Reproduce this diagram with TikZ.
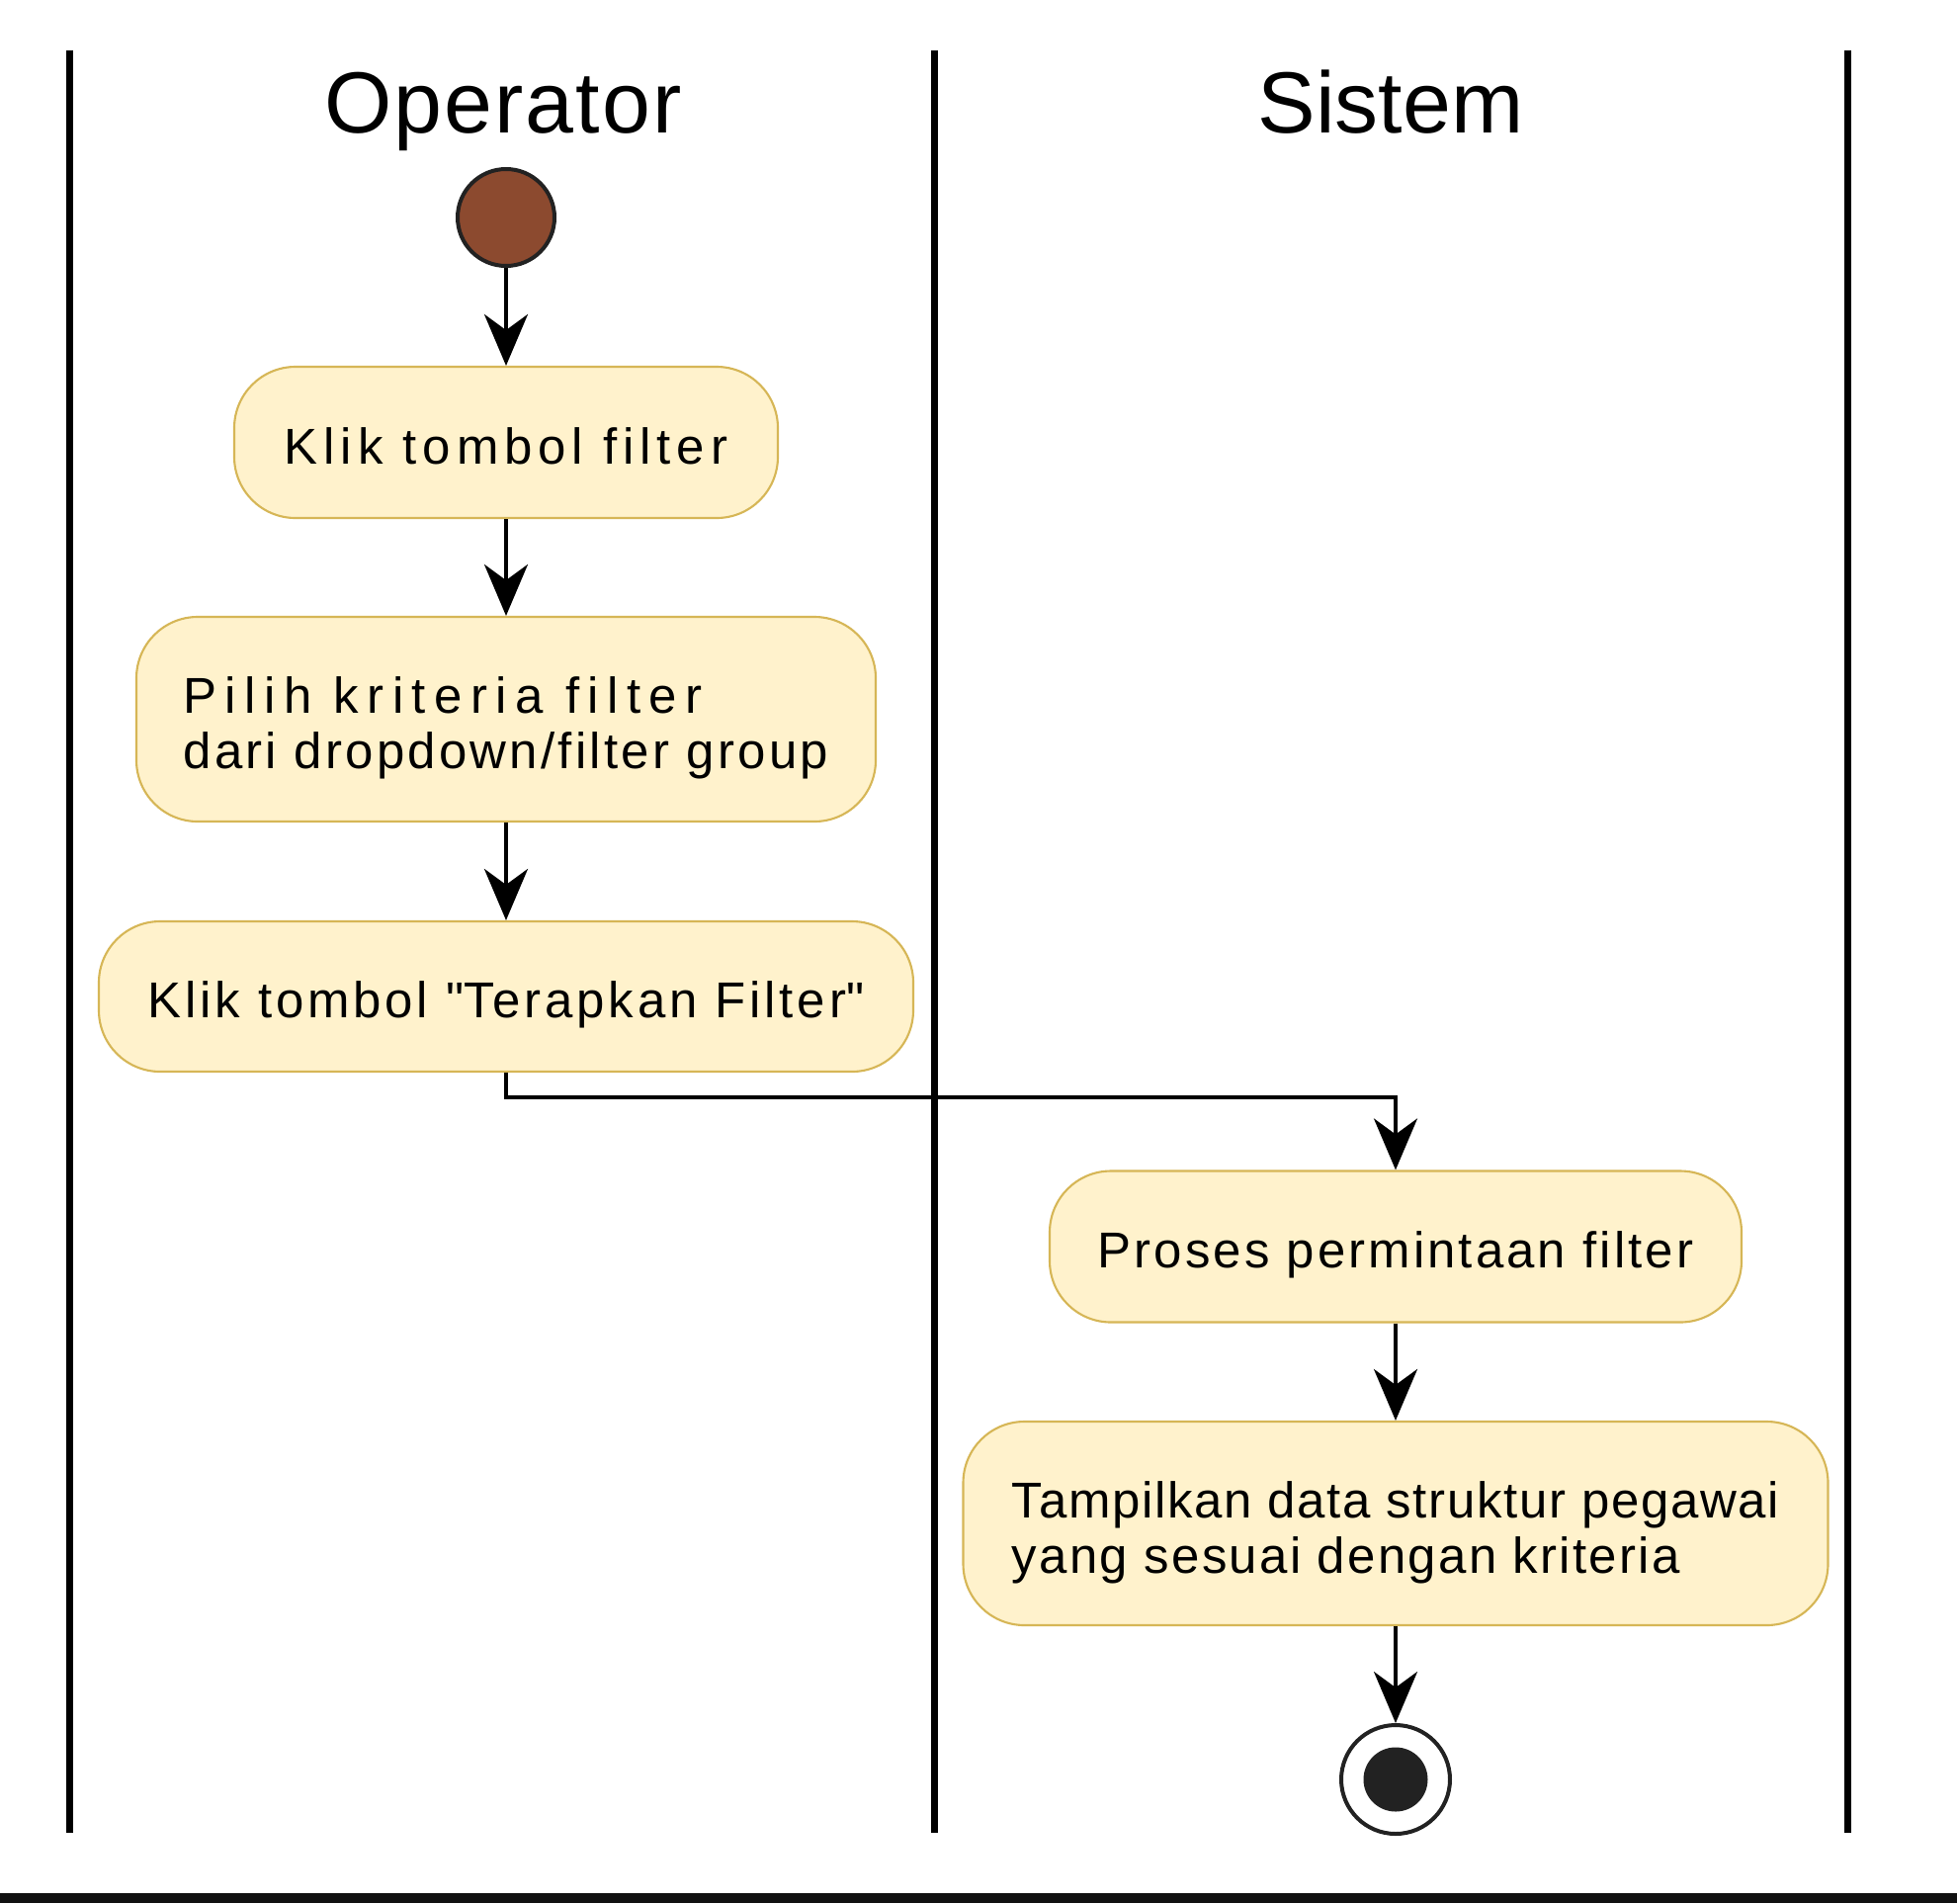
\documentclass[tikz,border=0pt]{standalone}
\usepackage{fontspec}
\setmainfont{Liberation Sans}
\usetikzlibrary{arrows.meta}
\definecolor{actfill}{HTML}{FFF2CC}
\definecolor{actline}{HTML}{D6B656}
\definecolor{startfill}{RGB}{140,74,47}
\definecolor{nodeline}{HTML}{222222}
\definecolor{barcolor}{HTML}{111111}
\newcommand{\spaced}[2]{{\addfontfeature{LetterSpace=#1}#2}}
\tikzset{
  action/.style={draw=actline, fill=actfill, line width=0.6pt, rounded corners=0.62cm,
    font=\fontsize{14.5}{15.8}\selectfont, align=left, inner sep=0pt,
    text height=0.5cm, text depth=0.07cm},
  action2/.style={action, text height=1.07cm, text depth=0.07cm},
  flow/.style={line width=0.04cm, -{Stealth[length=5.2mm,width=4.4mm,inset=1.6mm]}},
  lane/.style={line width=0.07cm},
  lanetitle/.style={font=\fontsize{25}{30}\selectfont, anchor=base},
}
\begin{document}
\begin{tikzpicture}
  \useasboundingbox (0,0) rectangle (19.80,-19.25);
  \fill[barcolor] (0,-19.15) rectangle (19.80,-19.25);
  % swimlanes
  \draw[lane] (0.70,-0.505) -- (0.70,-18.54);
  \draw[lane] (9.45,-0.505) -- (9.45,-18.54);
  \draw[lane] (18.69,-0.505) -- (18.69,-18.54);
  \node[lanetitle] (opTitle) at (5.09,-1.34) {\spaced{2.4}{Operator}};
  \node[lanetitle] (sysTitle) at (14.07,-1.34) {Sistem};
  % operator
  \node[circle, draw=nodeline, fill=startfill, line width=0.04cm, minimum size=0.98cm, inner sep=0pt] (start) at (5.12,-2.20) {};
  \node[action, minimum width=5.5cm, minimum height=1.53cm] (klikFilter) at (5.12,-4.475) {\spaced{11.6}{Klik tombol filter}};
  \node[action2, minimum width=7.48cm, minimum height=2.07cm] (pilihKriteria) at (5.12,-7.275) {\spaced{16.5}{Pilih kriteria filter}\\\spaced{6.4}{dari dropdown/filter group}};
  \node[action, minimum width=8.24cm, minimum height=1.52cm] (klikTerapkan) at (5.12,-10.08) {\spaced{7.5}{Klik tombol \textquotedbl Terapkan Filter\textquotedbl}};
  % sistem
  \node[action, minimum width=7.0cm, minimum height=1.53cm] (proses) at (14.12,-12.61) {\spaced{6.0}{Proses permintaan filter}};
  \node[action2, minimum width=8.75cm, minimum height=2.06cm] (tampilkan) at (14.12,-15.41) {\spaced{3.3}{Tampilkan data struktur pegawai}\\\spaced{4.5}{yang sesuai dengan kriteria}};
  \node[circle, draw=nodeline, line width=0.04cm, minimum size=1.10cm, inner sep=0pt] (end) at (14.12,-18.00) {};
  \fill[nodeline] (end.center) circle (0.325cm);
  \coordinate (bend) at (5.12,-11.10);
  % flows
  \draw[flow] (start) -- (klikFilter);
  \draw[flow] (klikFilter) -- (pilihKriteria);
  \draw[flow] (pilihKriteria) -- (klikTerapkan);
  \draw[flow] (klikTerapkan) -- (bend) -| (proses);
  \draw[flow] (proses) -- (tampilkan);
  \draw[flow] (tampilkan) -- (end);
\end{tikzpicture}
\end{document}
